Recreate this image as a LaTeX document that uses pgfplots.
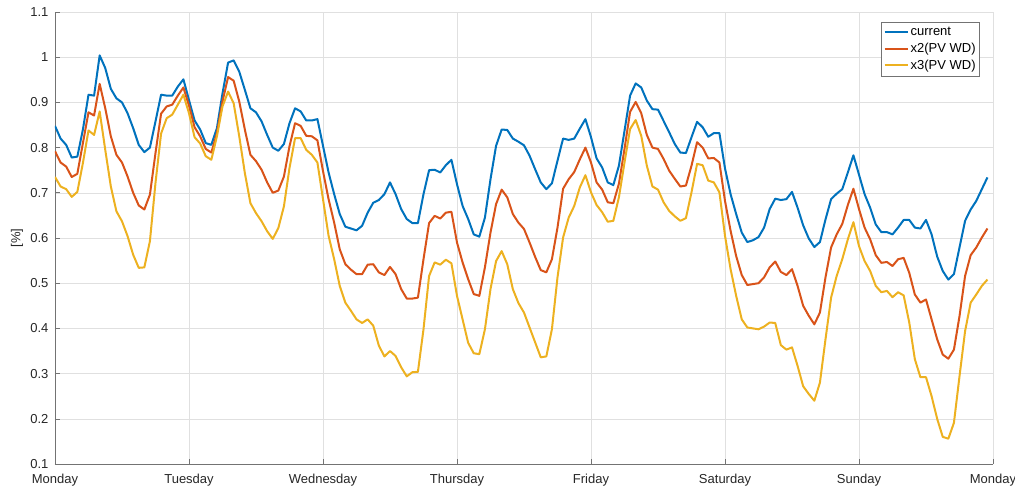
\documentclass[border=0pt]{standalone}
\usepackage{pgfplots}
\pgfplotsset{compat=1.18}
\usepackage{pgfplotstable}
\usepackage{fontspec}
\setmainfont{Liberation Sans}

\definecolor{mblue}{rgb}{0,0.447,0.741}
\definecolor{morange}{rgb}{0.85,0.325,0.098}
\definecolor{myellow}{rgb}{0.929,0.694,0.125}

% hourly values, Monday 00:00 = hour 0
\pgfplotstableread{
h cur x2 x3
0 0.848 0.792 0.735
1 0.820 0.767 0.714
2 0.806 0.758 0.708
3 0.778 0.735 0.691
4 0.780 0.742 0.702
5 0.840 0.810 0.766
6 0.917 0.878 0.838
7 0.915 0.871 0.828
8 1.004 0.941 0.880
9 0.976 0.887 0.795
10 0.930 0.825 0.714
11 0.909 0.784 0.659
12 0.900 0.767 0.637
13 0.876 0.736 0.604
14 0.843 0.700 0.563
15 0.806 0.672 0.534
16 0.790 0.663 0.535
17 0.800 0.696 0.593
18 0.858 0.788 0.722
19 0.917 0.875 0.831
20 0.915 0.891 0.865
21 0.915 0.895 0.873
22 0.935 0.915 0.895
23 0.951 0.933 0.917
24 0.905 0.893 0.876
25 0.860 0.845 0.823
26 0.840 0.825 0.809
27 0.810 0.797 0.781
28 0.806 0.789 0.773
29 0.843 0.832 0.825
30 0.920 0.902 0.891
31 0.988 0.956 0.924
32 0.993 0.948 0.898
33 0.968 0.902 0.825
34 0.928 0.840 0.744
35 0.887 0.784 0.677
36 0.878 0.770 0.655
37 0.858 0.751 0.637
38 0.828 0.723 0.615
39 0.800 0.700 0.598
40 0.793 0.705 0.622
41 0.808 0.736 0.670
42 0.854 0.803 0.755
43 0.887 0.854 0.821
44 0.880 0.848 0.821
45 0.860 0.826 0.795
46 0.860 0.825 0.784
47 0.863 0.816 0.767
48 0.804 0.748 0.686
49 0.745 0.686 0.605
50 0.697 0.634 0.553
51 0.653 0.575 0.494
52 0.625 0.542 0.457
53 0.621 0.530 0.439
54 0.617 0.520 0.420
55 0.627 0.520 0.412
56 0.656 0.541 0.420
57 0.678 0.542 0.406
58 0.684 0.524 0.362
59 0.697 0.518 0.338
60 0.723 0.536 0.350
61 0.697 0.520 0.339
62 0.664 0.487 0.314
63 0.642 0.466 0.294
64 0.633 0.466 0.303
65 0.633 0.468 0.304
66 0.697 0.553 0.398
67 0.750 0.633 0.516
68 0.751 0.649 0.546
69 0.745 0.643 0.541
70 0.761 0.656 0.552
71 0.773 0.658 0.544
72 0.719 0.590 0.472
73 0.671 0.546 0.420
74 0.642 0.509 0.368
75 0.608 0.476 0.345
76 0.603 0.472 0.343
77 0.645 0.535 0.398
78 0.730 0.612 0.487
79 0.804 0.675 0.549
80 0.840 0.707 0.571
81 0.839 0.690 0.542
82 0.820 0.653 0.487
83 0.813 0.634 0.456
84 0.805 0.620 0.435
85 0.782 0.590 0.402
86 0.752 0.558 0.369
87 0.723 0.529 0.336
88 0.708 0.524 0.338
89 0.721 0.553 0.398
90 0.771 0.623 0.513
91 0.820 0.709 0.601
92 0.817 0.730 0.645
93 0.820 0.746 0.671
94 0.842 0.774 0.712
95 0.863 0.800 0.739
96 0.823 0.767 0.701
97 0.776 0.723 0.673
98 0.756 0.707 0.657
99 0.723 0.679 0.636
100 0.717 0.677 0.638
101 0.760 0.720 0.690
102 0.837 0.797 0.767
103 0.915 0.879 0.841
104 0.942 0.901 0.861
105 0.933 0.876 0.826
106 0.904 0.828 0.760
107 0.885 0.800 0.714
108 0.884 0.797 0.707
109 0.859 0.775 0.679
110 0.834 0.749 0.660
111 0.808 0.731 0.648
112 0.789 0.714 0.638
113 0.788 0.716 0.644
114 0.823 0.760 0.701
115 0.857 0.812 0.764
116 0.845 0.800 0.761
117 0.824 0.776 0.727
118 0.832 0.777 0.723
119 0.832 0.767 0.701
120 0.754 0.682 0.605
121 0.697 0.616 0.531
122 0.653 0.560 0.472
123 0.612 0.518 0.420
124 0.591 0.496 0.402
125 0.595 0.498 0.400
126 0.602 0.500 0.398
127 0.623 0.513 0.404
128 0.664 0.535 0.413
129 0.687 0.548 0.412
130 0.684 0.525 0.363
131 0.686 0.518 0.353
132 0.702 0.531 0.358
133 0.667 0.494 0.317
134 0.628 0.450 0.272
135 0.599 0.428 0.255
136 0.580 0.409 0.240
137 0.591 0.435 0.280
138 0.641 0.513 0.376
139 0.686 0.579 0.468
140 0.698 0.608 0.516
141 0.708 0.631 0.553
142 0.745 0.673 0.597
143 0.783 0.709 0.635
144 0.740 0.664 0.582
145 0.697 0.623 0.549
146 0.667 0.597 0.527
147 0.630 0.562 0.494
148 0.613 0.545 0.480
149 0.613 0.547 0.483
150 0.608 0.538 0.469
151 0.623 0.553 0.480
152 0.640 0.556 0.473
153 0.640 0.523 0.413
154 0.623 0.475 0.332
155 0.621 0.457 0.292
156 0.640 0.464 0.292
157 0.608 0.420 0.250
158 0.559 0.376 0.200
159 0.527 0.342 0.160
160 0.508 0.333 0.156
161 0.520 0.353 0.191
162 0.579 0.427 0.294
163 0.638 0.516 0.394
164 0.663 0.562 0.457
165 0.682 0.579 0.475
166 0.708 0.601 0.494
167 0.734 0.621 0.508
}\loaddata

\begin{document}
\begin{tikzpicture}
\begin{axis}[
	scale only axis,
	width=938pt, height=452pt,
	xmin=0, xmax=168,
	ymin=0.1, ymax=1.1,
	xtick={0,24,48,72,96,120,144,168},
	xticklabels={Monday,Tuesday,Wednesday,Thursday,Friday,Saturday,Sunday,Monday},
	ytick={0.1,0.2,0.3,0.4,0.5,0.6,0.7,0.8,0.9,1,1.1},
	/pgf/number format/assume math mode=true,
	axis x line*=bottom,
	axis y line*=left,
	axis line style={black!55, line width=0.6pt},
	tick align=inside,
	major tick length=5pt,
	tick style={black!55, line width=0.6pt},
	grid=major,
	major grid style={black!12, line width=0.5pt},
	tick label style={font=\fontsize{13}{15}\selectfont, text=black!85},
	x tick label style={yshift=-7pt},
	y tick label style={xshift=-3pt},
	ylabel={[\%]},
	every axis y label/.style={at={(axis description cs:-0.0405,0.5)}, rotate=90, anchor=center,
		font=\fontsize{13}{15}\selectfont, text=black!85},
	legend style={at={(0.986,0.978)}, anchor=north east, draw=black!55, line width=0.5pt,
		font=\fontsize{13}{15}\selectfont, inner xsep=2pt, inner ysep=3pt, row sep=2pt, cells={anchor=west}},
	legend image code/.code={\draw[#1, line width=2pt] (0pt,0pt) -- (23pt,0pt);},
]
\addplot[color=mblue, line width=2pt, line join=round] table[x=h, y=cur] {\loaddata};
\addplot[color=morange, line width=2pt, line join=round] table[x=h, y=x2] {\loaddata};
\addplot[color=myellow, line width=2pt, line join=round] table[x=h, y=x3] {\loaddata};
\legend{current, x2(PV WD), x3(PV WD)}
\end{axis}
\pgfresetboundingbox
\path ([shift={(-55pt,-26pt)}]current axis.south west) rectangle ([shift={(22pt,12pt)}]current axis.north east);
\end{tikzpicture}
\end{document}
